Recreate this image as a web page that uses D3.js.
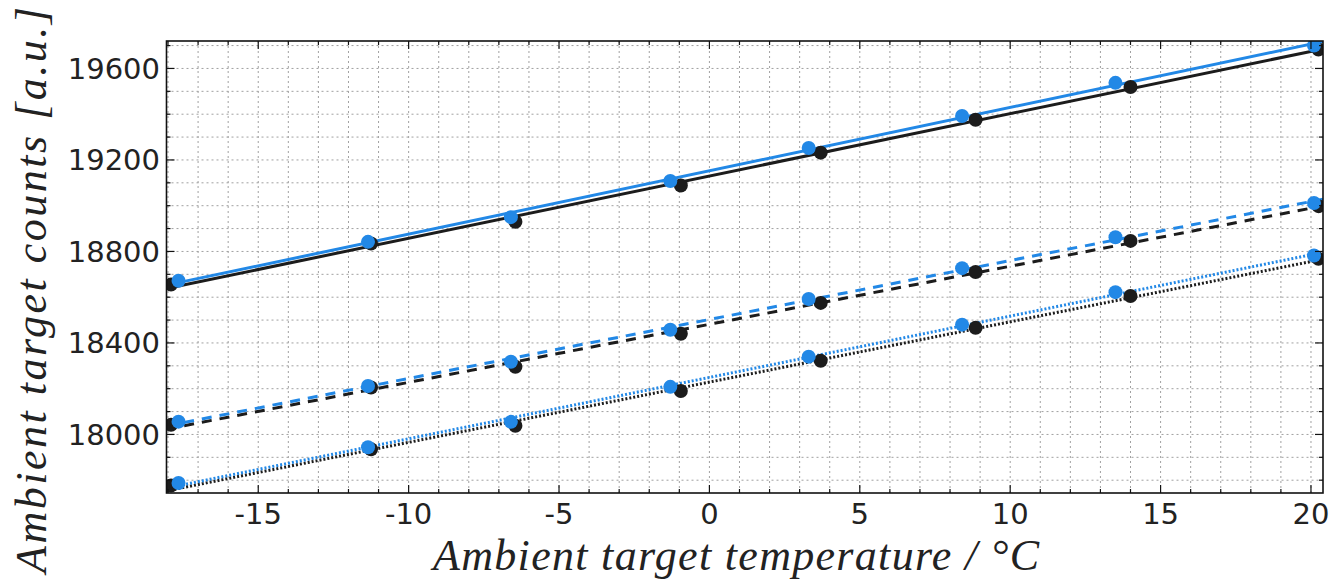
<!DOCTYPE html>
<html><head><meta charset="utf-8">
<script src="https://cdn.jsdelivr.net/npm/d3@7"></script>
<style>body{margin:0;background:#fff;}svg{display:block;}</style>
</head><body>
<svg id="chart" width="1343" height="580"></svg>
<script>
// ---- data ----
const xTicks = [-15, -10, -5, 0, 5, 10, 15, 20];
const yTicks = [18000, 18400, 18800, 19200, 19600];
const xLabel = "Ambient target temperature / °C";
const yLabel = "Ambient target counts [a.u.]";

const tempBlue  = [-17.65, -11.35, -6.6, -1.3, 3.3, 8.4, 13.5, 20.1];
const tempBlack = [-17.9, -11.25, -6.45, -0.95, 3.7, 8.85, 14.0, 20.25];

const solidBlue   = [18672, 18842, 18950, 19108, 19252, 19392, 19537, 19700];
const solidBlack  = [18655, 18835, 18930, 19088, 19232, 19376, 19519, 19683];
const dashedBlue  = [18056, 18212, 18318, 18458, 18592, 18727, 18862, 19012];
const dashedBlack = [18042, 18205, 18296, 18440, 18575, 18710, 18846, 18998];
const dottedBlue  = [17788, 17944, 18055, 18208, 18340, 18480, 18622, 18782];
const dottedBlack = [17777, 17935, 18038, 18190, 18322, 18466, 18605, 18768];

const series = [
  {x: tempBlack, y: solidBlack,  color: "#1c1c1c", dash: null},
  {x: tempBlue,  y: solidBlue,   color: "#2288e6", dash: null},
  {x: tempBlack, y: dashedBlack, color: "#1c1c1c", dash: "10,8"},
  {x: tempBlue,  y: dashedBlue,  color: "#2288e6", dash: "10,8"},
  {x: tempBlack, y: dottedBlack, color: "#1c1c1c", dash: "2,2"},
  {x: tempBlue,  y: dottedBlue,  color: "#2288e6", dash: "2,2"}
];

// ---- layout ----
const L = 166.5, R = 1323, T = 41, B = 493;
const svg = d3.select("#chart");
const x = d3.scaleLinear().domain([-18.05, 20.4]).range([L, R]);
const y = d3.scaleLinear().domain([17744, 19720]).range([B, T]);

svg.append("defs").append("clipPath").attr("id", "clip")
  .append("rect").attr("x", L).attr("y", T).attr("width", R - L).attr("height", B - T);

// grid
const xMinor = d3.range(-18, 21, 1);
const yMinor = d3.range(17800, 19701, 100);
const grid = svg.append("g");
grid.selectAll("line.vx").data(xMinor).join("line")
  .attr("x1", d => x(d)).attr("x2", d => x(d)).attr("y1", T).attr("y2", B)
  .attr("stroke", "#a0a0a0").attr("stroke-width", 1).attr("stroke-dasharray", "2,3");
grid.selectAll("line.hy").data(yMinor).join("line")
  .attr("y1", d => y(d)).attr("y2", d => y(d)).attr("x1", L).attr("x2", R)
  .attr("stroke", "#a0a0a0").attr("stroke-width", 1).attr("stroke-dasharray", "2,3");

// fits + points
const plot = svg.append("g").attr("clip-path", "url(#clip)");
function fit(xs, ys) {
  const n = xs.length, mx = d3.mean(xs), my = d3.mean(ys);
  let sxy = 0, sxx = 0;
  for (let i = 0; i < n; i++) { sxy += (xs[i]-mx)*(ys[i]-my); sxx += (xs[i]-mx)**2; }
  const b = sxy / sxx, a = my - b * mx;
  return t => a + b * t;
}
const line = d3.line().x(d => x(d[0])).y(d => y(d[1]));
series.forEach(s => {
  const f = fit(s.x, s.y);
  const dom = x.domain();
  plot.append("path").datum([[dom[0], f(dom[0])], [dom[1], f(dom[1])]])
    .attr("d", line).attr("fill", "none").attr("stroke", s.color)
    .attr("stroke-width", 3).attr("stroke-dasharray", s.dash);
});
series.forEach(s => {
  plot.append("g").selectAll("circle").data(s.x.map((t, i) => [t, s.y[i]])).join("circle")
    .attr("cx", d => x(d[0])).attr("cy", d => y(d[1])).attr("r", 7)
    .attr("fill", s.color);
});

// frame
svg.append("rect").attr("x", L).attr("y", T).attr("width", R - L).attr("height", B - T)
  .attr("fill", "none").attr("stroke", "#111").attr("stroke-width", 1.6);

// ticks (inward, all four sides)
const tk = svg.append("g").attr("stroke", "#111").attr("stroke-width", 1.2);
xMinor.forEach(d => {
  const len = xTicks.includes(d) ? 8 : 4;
  tk.append("line").attr("x1", x(d)).attr("x2", x(d)).attr("y1", B).attr("y2", B - len);
  tk.append("line").attr("x1", x(d)).attr("x2", x(d)).attr("y1", T).attr("y2", T + len);
});
yMinor.forEach(d => {
  const len = yTicks.includes(d) ? 8 : 4;
  tk.append("line").attr("y1", y(d)).attr("y2", y(d)).attr("x1", L).attr("x2", L + len);
  tk.append("line").attr("y1", y(d)).attr("y2", y(d)).attr("x1", R).attr("x2", R - len);
});

// tick labels
const tickFont = "'DejaVu Sans', sans-serif";
svg.append("g").selectAll("text").data(xTicks).join("text")
  .attr("x", d => x(d)).attr("y", 524).attr("text-anchor", "middle")
  .attr("font-family", tickFont).attr("font-size", 29).attr("fill", "#222")
  .text(d => d);
svg.append("g").selectAll("text").data(yTicks).join("text")
  .attr("x", 160).attr("y", d => y(d)).attr("dy", "0.36em").attr("text-anchor", "end")
  .attr("font-family", tickFont).attr("font-size", 29).attr("fill", "#222")
  .text(d => d);

// axis labels
const labFont = "'Liberation Serif', 'DejaVu Serif', serif";
svg.append("text").attr("x", 736).attr("y", 570).attr("text-anchor", "middle")
  .attr("font-family", labFont).attr("font-style", "italic").attr("font-size", 44)
  .attr("textLength", 606).attr("lengthAdjust", "spacing")
  .attr("fill", "#222").text(xLabel);
svg.append("text").attr("transform", "translate(46,290) rotate(-90)").attr("text-anchor", "middle")
  .attr("font-family", labFont).attr("font-style", "italic").attr("font-size", 44)
  .attr("textLength", 566).attr("lengthAdjust", "spacing")
  .attr("fill", "#222").text(yLabel);
</script>
</body></html>
